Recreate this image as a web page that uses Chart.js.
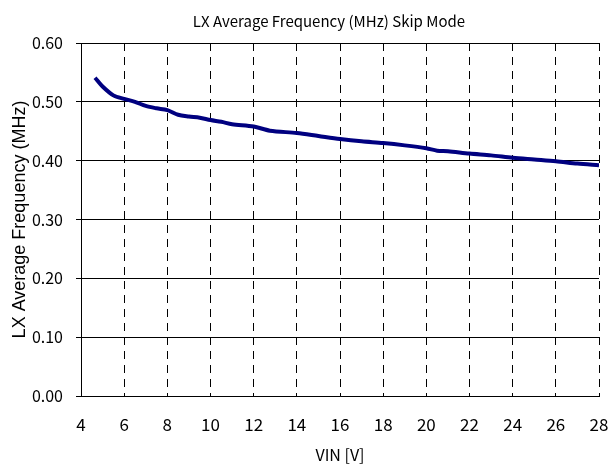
<!DOCTYPE html>
<html>
<head>
<meta charset="utf-8">
<script src="https://cdn.jsdelivr.net/npm/chart.js@4"></script>
<style>
  html, body { margin: 0; padding: 0; background: #fff; }
  #wrap { width: 609px; height: 465px; }
</style>
</head>
<body>
<div id="wrap"><canvas id="chart" width="609" height="465"></canvas></div>
<script>
// Data
const vinValues = [4.65, 5.0, 5.5, 6.0, 6.5, 7.0, 7.5, 8.0, 8.5, 9.0, 9.5, 10, 10.5, 11, 12, 12.75, 14, 15, 16, 17, 18, 19, 20, 20.5, 21, 22, 23, 24, 25, 26, 27, 28];
const freqValues = [0.541, 0.526, 0.511, 0.505, 0.500, 0.493, 0.489, 0.486, 0.478, 0.475, 0.473, 0.469, 0.466, 0.462, 0.458, 0.451, 0.447, 0.442, 0.437, 0.433, 0.430, 0.426, 0.421, 0.417, 0.416, 0.412, 0.409, 0.405, 0.402, 0.399, 0.395, 0.392];
const xTicks = [4, 6, 8, 10, 12, 14, 16, 18, 20, 22, 24, 26, 28];
const yTicks = [0, 0.1, 0.2, 0.3, 0.4, 0.5, 0.6];
const chartTitle = 'LX Average Frequency (MHz) Skip Mode';

const narrowFont = '"Noto Sans CJK JP", sans-serif';

const points = vinValues.map((v, i) => ({ x: v, y: freqValues[i] }));

// title drawn a bit right of canvas centre, like the original
const titlePlugin = {
    id: 'topTitle',
    afterDraw(chart) {
        const ctx = chart.ctx;
        ctx.save();
        ctx.font = '15px ' + narrowFont;
        ctx.fillStyle = '#000';
        ctx.textAlign = 'center';
        ctx.textBaseline = 'middle';
        ctx.fillText(chartTitle, 329, 21);
        ctx.restore();
    }
};

new Chart(document.getElementById('chart'), {
    type: 'line',
    data: {
        datasets: [{
            data: points,
            borderColor: '#000080',
            borderWidth: 4,
            pointRadius: 0,
            tension: 0.3,
            fill: false
        }]
    },
    options: {
        responsive: false,
        animation: false,
        layout: { padding: { left: 0, right: 10, top: 43, bottom: 0 } },
        plugins: {
            legend: { display: false },
            tooltip: { enabled: false },
            title: { display: false }
        },
        scales: {
            x: {
                type: 'linear',
                min: 4,
                max: 28,
                afterBuildTicks: scale => { scale.ticks = xTicks.map(v => ({ value: v })); },
                afterFit: scale => {
                    scale.height = 69;
                    scale.paddingLeft = 0;
                    scale.paddingRight = 0;
                },
                grid: {
                    color: '#000',
                    lineWidth: 1,
                    drawTicks: false
                },
                border: { display: true, color: '#000', width: 1, dash: [8, 6] },
                ticks: {
                    color: '#000',
                    padding: 18,
                    font: { family: narrowFont, size: 17 },
                    maxRotation: 0
                },
                title: {
                    display: true,
                    text: 'VIN [V]',
                    color: '#000',
                    font: { family: narrowFont, size: 16 },
                    padding: { top: 1, bottom: 0 }
                }
            },
            y: {
                min: 0,
                max: 0.6,
                afterBuildTicks: scale => { scale.ticks = yTicks.map(v => ({ value: v })); },
                afterFit: scale => { scale.width = 81; },
                border: { display: true, color: '#000', width: 1 },
                grid: {
                    color: '#000',
                    lineWidth: 1,
                    tickLength: 5
                },
                ticks: {
                    color: '#000',
                    padding: 13,
                    font: { family: narrowFont, size: 16 },
                    callback: v => v.toFixed(2)
                },
                title: {
                    display: true,
                    text: 'LX Average Frequency (MHz)',
                    color: '#000',
                    font: { family: '"Liberation Sans", Arial, sans-serif', size: 18 },
                    padding: { top: 9, bottom: 0 }
                }
            }
        }
    },
    plugins: [titlePlugin]
});
</script>
</body>
</html>
